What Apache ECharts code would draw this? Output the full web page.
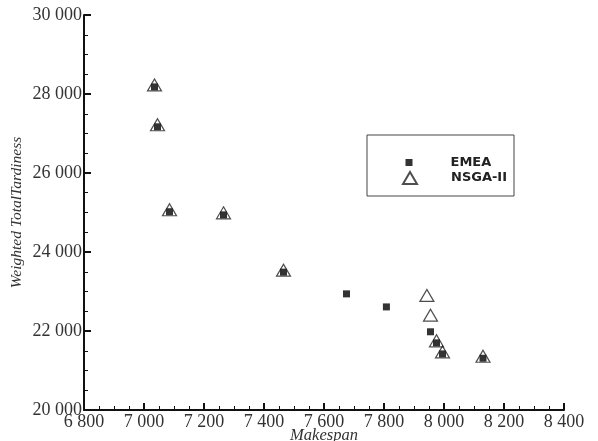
<!DOCTYPE html>
<html>
<head>
<meta charset="utf-8">
<script src="https://cdn.jsdelivr.net/npm/echarts@6/dist/echarts.min.js"></script>
<style>
html, body { margin: 0; padding: 0; background: #fff; }
#main { width: 598px; height: 441px; }
</style>
</head>
<body>
<div id="main"></div>
<script>
// 数据：Makespan / Weighted Total Tardiness
var emeaX = [7035, 7045, 7085, 7265, 7465, 7675, 7808, 7955, 7975, 7995, 8130];
var emeaY = [28180, 27170, 25020, 24940, 23490, 22940, 22610, 21980, 21700, 21420, 21310];
var nsgaX = [7035, 7045, 7085, 7265, 7465, 7943, 7955, 7975, 7995, 8130];
var nsgaY = [28180, 27170, 25020, 24940, 23490, 22850, 22350, 21700, 21420, 21310];
var xTicks = [6800, 8400, 200];   // min, max, interval
var yTicks = [20000, 30000, 2000];

function toPairs(xs, ys) {
    var out = [];
    for (var i = 0; i < xs.length; i++) {
        out.push([xs[i], ys[i]]);
    }
    return out;
}

function fmt(v) {
    return String(v).replace(/\B(?=(\d{3})+(?!\d))/g, ' ');
}

var serif = '"Liberation Serif", "DejaVu Serif", serif';
var sans = '"DejaVu Sans", "Liberation Sans", sans-serif';

var myChart = echarts.init(document.getElementById('main'));

option = {
    animation: false,
    grid: { left: 84, right: 34, top: 15, bottom: 31, outerBoundsMode: 'none' },
    xAxis: {
        type: 'value',
        min: xTicks[0],
        max: xTicks[1],
        interval: xTicks[2],
        name: 'Makespan',
        nameLocation: 'middle',
        nameGap: 17,
        nameMoveOverlap: false,
        nameTextStyle: { fontFamily: serif, fontStyle: 'italic', fontSize: 16.5, color: '#333' },
        axisLine: { lineStyle: { color: '#111', width: 2 } },
        axisTick: { inside: true, length: 7, lineStyle: { color: '#111', width: 2 } },
        minorTick: { show: true, splitNumber: 4, length: 4, lineStyle: { color: '#111', width: 1 } },
        splitLine: { show: false },
        axisLabel: { formatter: fmt, margin: 3, fontFamily: serif, fontSize: 18, color: '#333' }
    },
    yAxis: {
        type: 'value',
        min: yTicks[0],
        max: yTicks[1],
        interval: yTicks[2],
        name: 'Weighted TotalTardiness',
        nameLocation: 'middle',
        nameGap: 59,
        nameMoveOverlap: false,
        nameTextStyle: { fontFamily: serif, fontStyle: 'italic', fontSize: 15.5, color: '#333' },
        axisLine: { lineStyle: { color: '#111', width: 2 } },
        axisTick: { inside: true, length: 7, lineStyle: { color: '#111', width: 2 } },
        minorTick: { show: true, splitNumber: 4, length: 4, lineStyle: { color: '#111', width: 1 } },
        splitLine: { show: false },
        axisLabel: { formatter: fmt, margin: 2, fontFamily: serif, fontSize: 18, color: '#333' }
    },
    legend: [
        {
            data: ['EMEA'],
            left: 405.5, top: 156,
            padding: 0,
            itemWidth: 7, itemHeight: 7,
            textStyle: { fontFamily: sans, fontWeight: 'bold', fontSize: 13, color: '#222', padding: [0, 0, 0, 33] }
        },
        {
            data: ['NSGA-II'],
            left: 402, top: 171,
            padding: 0,
            itemWidth: 14, itemHeight: 12,
            textStyle: { fontFamily: sans, fontWeight: 'bold', fontSize: 13, color: '#222', padding: [0, 0, 0, 29] }
        }
    ],
    graphic: [
        {
            type: 'rect',
            shape: { x: 367, y: 135, width: 147, height: 61 },
            style: { fill: 'none', stroke: '#444', lineWidth: 1 }
        }
    ],
    series: [
        {
            name: 'EMEA',
            type: 'scatter',
            symbol: 'rect',
            symbolSize: 7,
            itemStyle: { color: '#000' },
            data: toPairs(emeaX, emeaY),
            z: 2
        },
        {
            name: 'NSGA-II',
            type: 'scatter',
            symbol: 'triangle',
            symbolSize: [14, 12],
            symbolOffset: [0, -2],
            itemStyle: { color: 'rgba(0,0,0,0)', borderColor: '#222', borderWidth: 1.2 },
            data: toPairs(nsgaX, nsgaY),
            z: 3
        }
    ]
};
myChart.setOption(option);
</script>
</body>
</html>
